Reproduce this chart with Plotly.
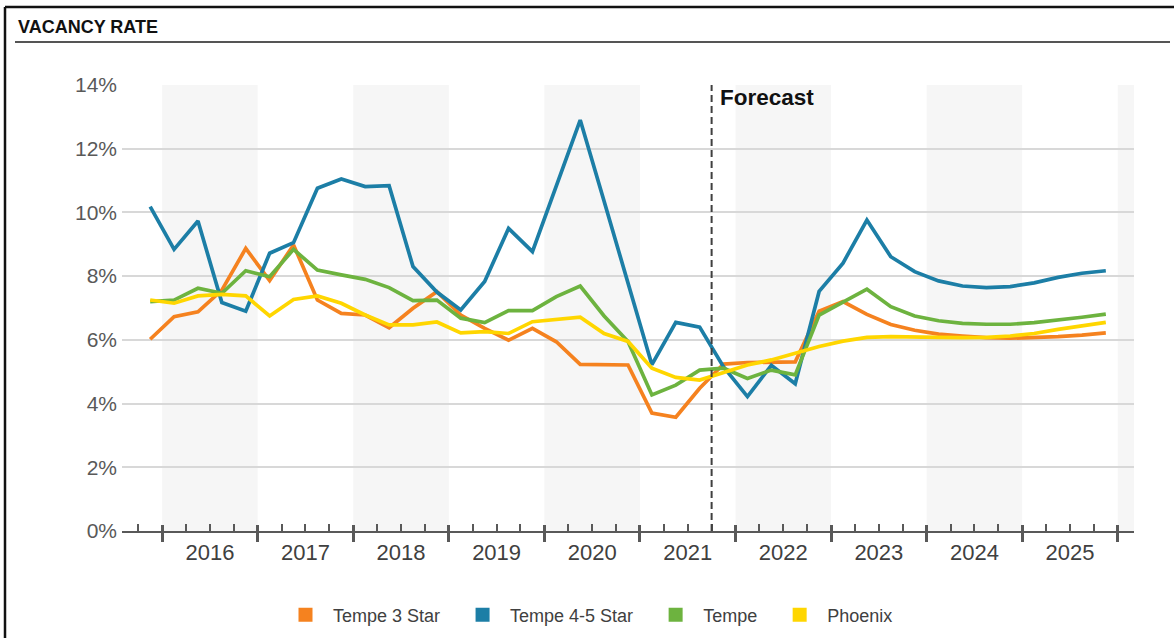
import plotly.graph_objects as go

# Quarterly vacancy rate, history and forecast (percent)
quarters = [
    "2015 Q4",
    "2016 Q1", "2016 Q2", "2016 Q3", "2016 Q4",
    "2017 Q1", "2017 Q2", "2017 Q3", "2017 Q4",
    "2018 Q1", "2018 Q2", "2018 Q3", "2018 Q4",
    "2019 Q1", "2019 Q2", "2019 Q3", "2019 Q4",
    "2020 Q1", "2020 Q2", "2020 Q3", "2020 Q4",
    "2021 Q1", "2021 Q2", "2021 Q3", "2021 Q4",
    "2022 Q1", "2022 Q2", "2022 Q3", "2022 Q4",
    "2023 Q1", "2023 Q2", "2023 Q3", "2023 Q4",
    "2024 Q1", "2024 Q2", "2024 Q3", "2024 Q4",
    "2025 Q1", "2025 Q2", "2025 Q3", "2025 Q4",
]

tempe_3_star = [
    6.02,
    6.73, 6.88, 7.56, 8.87,
    7.86, 8.98, 7.25, 6.83,
    6.78, 6.38, 6.99, 7.51,
    6.78, 6.36, 5.99, 6.36,
    5.94, 5.23, 5.23, 5.21,
    3.70, 3.57, 4.48, 5.24,
    5.29, 5.29, 5.31, 6.90,
    7.20, 6.80, 6.48, 6.30,
    6.18, 6.12, 6.07, 6.05,
    6.07, 6.10, 6.15, 6.22,
]

tempe_4_5_star = [
    10.18,
    8.84, 9.73, 7.17, 6.90,
    8.72, 9.05, 10.76, 11.05,
    10.81, 10.84, 8.30, 7.50,
    6.94, 7.83, 9.50, 8.77,
    10.85, 12.90, 10.35, 7.80,
    5.22, 6.55, 6.40, 5.15,
    4.22, 5.20, 4.62, 7.52,
    8.41, 9.76, 8.61, 8.14,
    7.85, 7.69, 7.64, 7.67,
    7.79, 7.96, 8.09, 8.17,
]

tempe = [
    7.20,
    7.25, 7.62, 7.46, 8.17,
    7.98, 8.84, 8.19, 8.04,
    7.90, 7.64, 7.23, 7.25,
    6.68, 6.54, 6.92, 6.92,
    7.36, 7.69, 6.75, 5.95,
    4.27, 4.58, 5.05, 5.11,
    4.79, 5.05, 4.90, 6.78,
    7.20, 7.59, 7.04, 6.75,
    6.60, 6.52, 6.49, 6.49,
    6.54, 6.62, 6.71, 6.81,
]

phoenix = [
    7.25,
    7.15, 7.38, 7.43, 7.38,
    6.75, 7.27, 7.38, 7.15,
    6.78, 6.47, 6.47, 6.56,
    6.22, 6.26, 6.20, 6.57,
    6.65, 6.71, 6.20, 5.95,
    5.11, 4.82, 4.74, 4.97,
    5.21, 5.37, 5.58, 5.79,
    5.96, 6.08, 6.10, 6.10,
    6.08, 6.07, 6.08, 6.12,
    6.20, 6.33, 6.44, 6.55,
]

series_names = ["Tempe 3 Star", "Tempe 4-5 Star", "Tempe", "Phoenix"]
series_values = [tempe_3_star, tempe_4_5_star, tempe, phoenix]
series_colors = ["#F5821F", "#1C7EA6", "#6DB33F", "#FFD600"]

years = [2016, 2017, 2018, 2019, 2020, 2021, 2022, 2023, 2024, 2025]
shaded_years = [2016, 2018, 2020, 2022, 2024, 2026]
forecast_start = "2021 Q4"

y_ticks = [0, 2, 4, 6, 8, 10, 12, 14]
y_tick_labels = [f"{v}%" for v in y_ticks]

FONT = "Liberation Sans, Arial, sans-serif"
AXIS_GREY = "#595959"
LEGEND_PAD = "\u00a0\u00a0"


def quarter_mid(label):
    """Position of a quarter label on a continuous year scale (mid-quarter)."""
    yr, q = label.split(" Q")
    return int(yr) + (int(q) - 0.5) / 4.0


x_vals = [quarter_mid(q) for q in quarters]
x_range = [2015.58, 2026.17]

# Plot-area geometry in pixels, used to place page furniture in paper units
W, H = 1174, 638
M_L, M_R, M_T, M_B = 122, 40, 85, 107
PLOT_W = W - M_L - M_R
PLOT_H = H - M_T - M_B


def px_x(px):
    return (px - M_L) / PLOT_W


def px_y(py):
    return (H - M_B - py) / PLOT_H


fig = go.Figure()

for name, vals, color in zip(series_names, series_values, series_colors):
    fig.add_trace(go.Scatter(
        x=x_vals, y=vals, mode="lines", name=name,
        line=dict(color=color, width=3.7),
        showlegend=False, hoverinfo="x+y",
    ))

# Square swatches for the legend; also carry the overlay tick axes
for i, (name, color) in enumerate(zip(series_names, series_colors)):
    fig.add_trace(go.Scatter(
        x=[None], y=[None], mode="markers",
        name=name + (LEGEND_PAD if i < len(series_names) - 1 else ""),
        marker=dict(symbol="square", size=14, color=color),
        xaxis="x2" if i % 2 == 0 else "x3",
    ))

# Alternating year bands
shapes = []
for yr in shaded_years:
    shapes.append(dict(
        type="rect", xref="x", yref="y",
        x0=yr, x1=min(yr + 1, x_range[1]), y0=0, y1=y_ticks[-1],
        fillcolor="#F6F6F6", line=dict(width=0), layer="below",
    ))

# Forecast divider
fc_x = quarter_mid(forecast_start) - 0.125
shapes.append(dict(
    type="line", xref="x", yref="y", x0=fc_x, x1=fc_x, y0=0, y1=y_ticks[-1],
    line=dict(color="#404040", width=2, dash="7px,4px"), layer="above",
))

# Frame and header rule
shapes.append(dict(type="line", xref="paper", yref="paper",
                   x0=px_x(5), x1=px_x(W + 5), y0=px_y(7), y1=px_y(7),
                   line=dict(color="#111111", width=2.5)))
shapes.append(dict(type="line", xref="paper", yref="paper",
                   x0=px_x(5), x1=px_x(5), y0=px_y(7), y1=px_y(H + 5),
                   line=dict(color="#111111", width=2.5)))
shapes.append(dict(type="line", xref="paper", yref="paper",
                   x0=px_x(15), x1=px_x(1170), y0=px_y(42), y1=px_y(42),
                   line=dict(color="#555555", width=2)))

annotations = [
    dict(text="VACANCY RATE", xref="paper", yref="paper",
         x=px_x(16), y=px_y(27), xanchor="left", yanchor="middle",
         showarrow=False,
         font=dict(family=FONT, size=18, color="#111111", weight="bold")),
    dict(text="Forecast", xref="x", yref="y",
         x=fc_x, y=13.6, xanchor="left", yanchor="middle", xshift=6,
         showarrow=False,
         font=dict(family=FONT, size=22.5, color="#111111", weight="bold")),
]

boundaries = [yr for yr in years] + [years[-1] + 1]
minor_ticks = [years[0] - 0.25] + [
    yr + 0.25 * k for yr in years for k in (1, 2, 3)
]

fig.update_layout(
    width=W, height=H, autosize=False,
    margin=dict(l=M_L, r=M_R, t=M_T, b=M_B, autoexpand=False),
    paper_bgcolor="white", plot_bgcolor="white",
    font=dict(family=FONT, color="#404040"),
    shapes=shapes, annotations=annotations,
    xaxis=dict(
        range=x_range, showgrid=False, zeroline=False,
        showline=True, linecolor=AXIS_GREY, linewidth=2,
        tickmode="array", tickvals=boundaries, ticktext=[""] * len(boundaries),
        ticks="outside", ticklen=9, tickwidth=2.5, tickcolor=AXIS_GREY,
        minor=dict(tickmode="array", tickvals=minor_ticks, ticks="inside",
                   ticklen=7, tickwidth=1.5, tickcolor=AXIS_GREY,
                   showgrid=False),
    ),
    xaxis2=dict(
        overlaying="x", anchor="y", side="bottom", range=x_range,
        showgrid=False, zeroline=False, showline=False,
        tickmode="array", tickvals=boundaries, ticktext=[""] * len(boundaries),
        ticks="inside", ticklen=6, tickwidth=2.5, tickcolor=AXIS_GREY,
    ),
    xaxis3=dict(
        overlaying="x", anchor="y", side="bottom", range=x_range,
        showgrid=False, zeroline=False, showline=False,
        tickmode="array", tickvals=[yr + 0.5 for yr in years],
        ticktext=[str(yr) for yr in years], ticks="",
        ticklabelstandoff=6,
        tickfont=dict(family=FONT, size=22, color="#404040"),
    ),
    yaxis=dict(
        range=[0, y_ticks[-1]], tickmode="array", tickvals=y_ticks,
        ticktext=y_tick_labels, ticks="", showline=False, zeroline=False,
        gridcolor="#D8D8D8", gridwidth=1.5,
        tickfont=dict(family=FONT, size=21, color=AXIS_GREY),
        ticklabelstandoff=4,
    ),
    legend=dict(
        orientation="h", xref="container", yref="container",
        x=588 / W, y=1 - 615 / H, xanchor="center", yanchor="middle",
        itemwidth=45,
        font=dict(family=FONT, size=18, color="#404040"),
        bgcolor="rgba(0,0,0,0)",
    ),
)

fig.write_html("out.html")
